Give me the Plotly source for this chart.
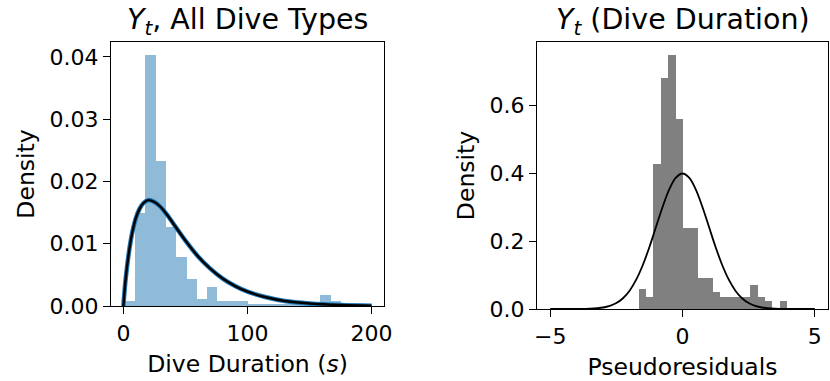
import plotly.graph_objects as go

# ---- Left panel: dive durations (seconds) ----
dur_bin_start = 1.2
dur_bin_width = 8.29
dur_density = [0.0008, 0.0150, 0.0403, 0.0233, 0.0127, 0.0078, 0.0044,
               0.0012, 0.0031, 0.0008, 0.0008, 0.0008, 0.0004, 0.0004,
               0.0004, 0.0004, 0.0004, 0.0004, 0.0004, 0.0017, 0.0008]

# fitted duration density
dur_fit_x = [0, 1, 2, 4, 6, 8, 10, 13, 16, 20, 25, 30, 35, 40, 50, 60, 70,
             80, 90, 100, 115, 130, 150, 175, 200]
dur_fit_y = [0.0, 0.0026, 0.0047, 0.0080, 0.0106, 0.0126, 0.0141, 0.0156,
             0.0165, 0.0170, 0.0167, 0.0159, 0.0147, 0.0133, 0.0105, 0.0080,
             0.0060, 0.0044, 0.0032, 0.0023, 0.0014, 0.0008, 0.0004,
             0.00015, 0.00005]

dur_xticks = [0, 100, 200]
dur_yticks = [0.00, 0.01, 0.02, 0.03, 0.04]

# ---- Right panel: pseudoresiduals ----
res_bin_start = -1.66
res_bin_width = 0.281
res_density = [0.059, 0.035, 0.427, 0.681, 0.748, 0.560, 0.237, 0.237,
               0.091, 0.091, 0.049, 0.035, 0.035, 0.035, 0.035, 0.072,
               0.035, 0.0235, 0.0, 0.0235]

# standard normal reference density
norm_x = [-5, -4, -3.5, -3, -2.75, -2.5, -2.25, -2, -1.75, -1.5, -1.25, -1,
          -0.75, -0.5, -0.25, 0, 0.25, 0.5, 0.75, 1, 1.25, 1.5, 1.75, 2,
          2.25, 2.5, 2.75, 3, 3.5, 4, 5]
norm_y = [0.0000015, 0.000134, 0.000873, 0.00443, 0.0091, 0.0175, 0.0317,
          0.0540, 0.0863, 0.1295, 0.1826, 0.2420, 0.3011, 0.3521, 0.3867,
          0.3989, 0.3867, 0.3521, 0.3011, 0.2420, 0.1826, 0.1295, 0.0863,
          0.0540, 0.0317, 0.0175, 0.0091, 0.00443, 0.000873, 0.000134,
          0.0000015]

res_xticks = [-5, 0, 5]
res_yticks = [0.0, 0.2, 0.4, 0.6]

W, H = 830, 381
FONT = "DejaVu Sans"


def centers(start, width, n):
    return [start + width * (i + 0.5) for i in range(n)]


fig = go.Figure()

fig.add_trace(go.Bar(
    x=centers(dur_bin_start, dur_bin_width, len(dur_density)),
    y=dur_density, width=dur_bin_width,
    marker=dict(color="rgba(31,119,180,0.5)", line=dict(width=0)),
    xaxis="x", yaxis="y", showlegend=False))
fig.add_trace(go.Scatter(
    x=dur_fit_x, y=dur_fit_y, mode="lines", line_shape="spline",
    line=dict(color="#1f77b4", width=4.5),
    xaxis="x", yaxis="y", showlegend=False))
fig.add_trace(go.Scatter(
    x=dur_fit_x, y=dur_fit_y, mode="lines", line_shape="spline",
    line=dict(color="black", width=2.4),
    xaxis="x", yaxis="y", showlegend=False))

fig.add_trace(go.Bar(
    x=centers(res_bin_start, res_bin_width, len(res_density)),
    y=res_density, width=res_bin_width,
    marker=dict(color="#808080", line=dict(width=0)),
    xaxis="x2", yaxis="y2", showlegend=False))
fig.add_trace(go.Scatter(
    x=norm_x, y=norm_y, mode="lines", line_shape="spline",
    line=dict(color="black", width=1.8),
    xaxis="x2", yaxis="y2", showlegend=False))

axis_common = dict(
    showline=True, mirror=True, linecolor="black", linewidth=1.4,
    ticks="outside", ticklen=7, tickwidth=1.4, tickcolor="black",
    showgrid=False, zeroline=False, automargin=False,
    tickfont=dict(family=FONT, size=22, color="black"),
)

fig.update_layout(
    width=W, height=H,
    margin=dict(l=0, r=0, t=0, b=0),
    paper_bgcolor="white", plot_bgcolor="white",
    bargap=0,
    font=dict(family=FONT, color="black"),
    xaxis=dict(domain=[111 / W, 384 / W], range=[-10, 210],
               tickvals=dur_xticks, anchor="y",
               title=dict(text="Dive Duration (<i>s</i>)", standoff=10,
                          font=dict(family=FONT, size=23.5)),
               **axis_common),
    yaxis=dict(domain=[1 - 306 / H, 1 - 42 / H], range=[0, 0.0424],
               tickvals=dur_yticks, tickformat=".2f", anchor="x",
               title=dict(text="Density", standoff=8,
                          font=dict(family=FONT, size=23.5)),
               **axis_common),
    xaxis2=dict(domain=[537 / W, 828 / W], range=[-5.5, 5.5],
                tickvals=res_xticks, anchor="y2",
                title=dict(text="Pseudoresiduals", standoff=10,
                           font=dict(family=FONT, size=23.5)),
                **axis_common),
    yaxis2=dict(domain=[1 - 309 / H, 1 - 42 / H], range=[0, 0.786],
                tickvals=res_yticks, tickformat=".1f", anchor="x2",
                title=dict(text="Density", standoff=8,
                           font=dict(family=FONT, size=23.5)),
                **axis_common),
    annotations=[
        dict(text="<i>Y</i><sub><i>t</i></sub>, All Dive Types",
             x=(111 + 384) / 2 / W, y=1 - 21 / H, xref="paper", yref="paper",
             xanchor="center", yanchor="middle", showarrow=False,
             font=dict(family=FONT, size=28.5, color="black")),
        dict(text="<i>Y</i><sub><i>t</i></sub> (Dive Duration)",
             x=(537 + 828) / 2 / W, y=1 - 21 / H, xref="paper", yref="paper",
             xanchor="center", yanchor="middle", showarrow=False,
             font=dict(family=FONT, size=28.5, color="black")),
    ],
)

fig.write_html("out.html")
